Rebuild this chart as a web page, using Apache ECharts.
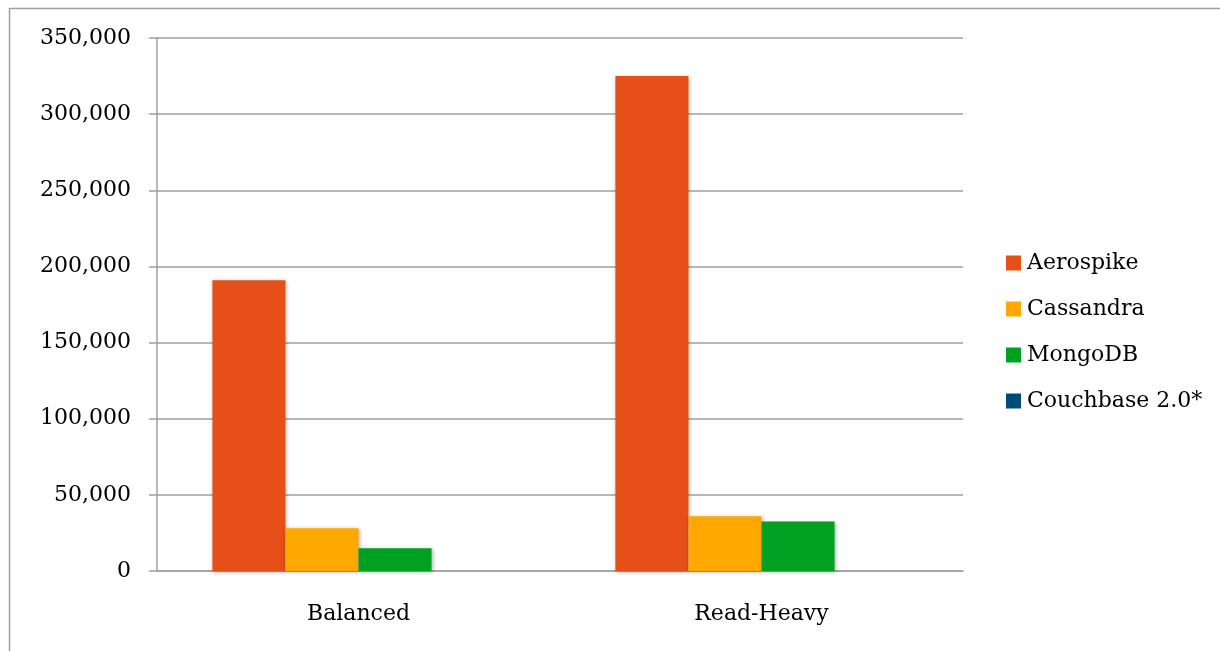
<!DOCTYPE html>
<html>
<head>
<meta charset="utf-8">
<script src="https://cdn.jsdelivr.net/npm/echarts@6/dist/echarts.min.js"></script>
<style>html,body{margin:0;padding:0;background:#fff}#c{width:1220px;height:651px}</style>
</head>
<body>
<div id="c"></div>
<script>
var categories = ['Balanced', 'Read-Heavy'];
var seriesNames = ['Aerospike', 'Cassandra', 'MongoDB', 'Couchbase 2.0*'];
var aerospike = [191000, 325000];
var cassandra = [28000, 36000];
var mongodb = [15000, 32500];
var couchbase = [0, 0];
var colors = ['#E65018', '#FFA800', '#00A122', '#004A7A'];

var FONT = 'DejaVu Serif';
var chart = echarts.init(document.getElementById('c'), null, {renderer: 'canvas'});
var values = [aerospike, cassandra, mongodb, couchbase];
var series = seriesNames.map(function (n, i) {
  return {
    name: n, type: 'bar', data: values[i], barGap: '0%', barCategoryGap: '27.5%',
    itemStyle: {color: colors[i], shadowBlur: 4, shadowColor: 'rgba(0,0,0,0.3)', shadowOffsetX: 1, shadowOffsetY: 1},
    emphasis: {disabled: true}
  };
});
chart.setOption({
  animation: false,
  graphic: [{type: 'rect', shape: {x: 9.5, y: 8.5, width: 1230, height: 700}, style: {fill: 'none', stroke: '#a0a0a0', lineWidth: 1.5}, silent: true}],
  grid: {left: 157, right: 257, top: 38, bottom: 80, containLabel: false},
  legend: {
    orient: 'vertical', left: 1006, top: 252, padding: 0, itemWidth: 15, itemHeight: 15, itemGap: 24,
    icon: 'rect', data: seriesNames,
    textStyle: {fontFamily: FONT, fontSize: 22, color: '#000', padding: [0, 0, 0, 1]}
  },
  xAxis: {
    type: 'category', data: categories,
    axisLine: {lineStyle: {color: '#a0a0a0', width: 1.5}},
    axisTick: {length: 8, lineStyle: {color: '#a0a0a0', width: 1.5}},
    axisLabel: {fontFamily: FONT, fontSize: 22, color: '#000', margin: 32}
  },
  yAxis: {
    type: 'value', min: 0, max: 350000, interval: 50000,
    axisLine: {show: true, lineStyle: {color: '#a0a0a0', width: 1.5}},
    axisTick: {show: true, length: 8, lineStyle: {color: '#a0a0a0', width: 1.5}},
    splitLine: {lineStyle: {color: '#a0a0a0', width: 1.5}},
    axisLabel: {fontFamily: FONT, fontSize: 22, color: '#000', margin: 26, padding: [6, 0, 0, 0],
      formatter: function (v) { return v.toLocaleString('en-US'); }}
  },
  series: series
});
</script>
</body>
</html>
